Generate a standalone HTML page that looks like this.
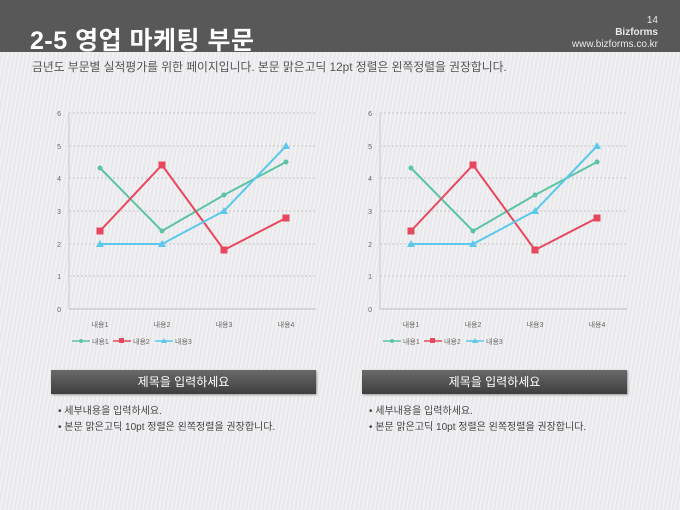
<!DOCTYPE html>
<html><head><meta charset="utf-8"><style>
body{margin:0;width:680px;height:510px;overflow:hidden;font-family:"Liberation Sans","Noto Sans CJK KR",sans-serif;background:repeating-linear-gradient(100deg,#f1f1f3 0,#f1f1f3 2px,#e9e9eb 2px,#e9e9eb 4px);position:relative}
.hd{position:absolute;left:0;top:0;width:680px;height:52px;background:#585858}
.t{position:absolute;left:30px;top:21px;color:#fff;font-size:25px;font-weight:bold;letter-spacing:0.5px}
.r{position:absolute;right:22px;top:15px;color:#e8e8e8;font-size:10px;text-align:right;line-height:12px}
.sub{position:absolute;left:32px;top:58px;font-size:11.8px;color:#555;white-space:nowrap}
.bar{position:absolute;width:265px;height:24px;top:370px;background:linear-gradient(#6a6a6a,#3e3e3e);color:#fff;font-size:12px;text-align:center;line-height:24px;box-shadow:1px 1px 2px #999}
.bl{position:absolute;top:404px;font-size:10px;color:#444;line-height:16px;white-space:nowrap}
</style></head><body>
<div class="hd"></div>
<div class="t">2-5 영업 마케팅 부문</div>
<div class="r">14<br><b>Bizforms</b><br>www.bizforms.co.kr</div>
<div class="sub">금년도 부문별 실적평가를 위한 페이지입니다. 본문 맑은고딕 12pt 정렬은 왼쪽정렬을 권장합니다.</div>
<svg width="680" height="510" style="position:absolute;left:0;top:0" font-family="Liberation Sans,Noto Sans CJK KR,sans-serif">
<defs><g id="c">
<g stroke="#bbb" stroke-dasharray="2,2" stroke-width="0.8">
<line x1="69" x2="316" y1="113" y2="113"/><line x1="69" x2="316" y1="146" y2="146"/><line x1="69" x2="316" y1="178" y2="178"/><line x1="69" x2="316" y1="211" y2="211"/><line x1="69" x2="316" y1="244" y2="244"/><line x1="69" x2="316" y1="276" y2="276"/></g>
<line x1="69" x2="316" y1="309" y2="309" stroke="#bbb"/><line x1="69" x2="69" y1="113" y2="309" stroke="#ccc"/>
<g font-size="7" fill="#666" text-anchor="end"><text x="61" y="116">6</text><text x="61" y="149">5</text><text x="61" y="181">4</text><text x="61" y="214">3</text><text x="61" y="247">2</text><text x="61" y="279">1</text><text x="61" y="312">0</text></g>
<g font-size="7" fill="#666" text-anchor="middle"><text x="100" y="327">내용1</text><text x="162" y="327">내용2</text><text x="224" y="327">내용3</text><text x="286" y="327">내용4</text></g>
<polyline points="100,168 162,231 224,195 286,162" fill="none" stroke="#5cc4a4" stroke-width="2"/>
<g fill="#5cc4a4"><circle cx="100" cy="168" r="2.5"/><circle cx="162" cy="231" r="2.5"/><circle cx="224" cy="195" r="2.5"/><circle cx="286" cy="162" r="2.5"/></g>
<polyline points="100,231 162,165 224,250 286,218" fill="none" stroke="#e8485e" stroke-width="2"/>
<g fill="#e8485e"><rect x="96.5" y="227.5" width="7" height="7"/><rect x="158.5" y="161.5" width="7" height="7"/><rect x="220.5" y="246.5" width="7" height="7"/><rect x="282.5" y="214.5" width="7" height="7"/></g>
<polyline points="100,244 162,244 224,211 286,146" fill="none" stroke="#5cc8ec" stroke-width="2"/>
<g fill="#5cc8ec"><polygon points="100,240 104,247 96,247"/><polygon points="162,240 166,247 158,247"/><polygon points="224,207 228,214 220,214"/><polygon points="286,142 290,149 282,149"/></g>
<line x1="72" x2="90" y1="341" y2="341" stroke="#5cc4a4" stroke-width="1.5"/><circle cx="81" cy="341" r="2" fill="#5cc4a4"/>
<line x1="113" x2="131" y1="341" y2="341" stroke="#e8485e" stroke-width="1.5"/><rect x="119" y="338" width="5" height="5" fill="#e8485e"/>
<line x1="155" x2="173" y1="341" y2="341" stroke="#5cc8ec" stroke-width="1.5"/><polygon points="164,338 167,343 161,343" fill="#5cc8ec"/>
<g font-size="7" fill="#666"><text x="92" y="344">내용1</text><text x="133" y="344">내용2</text><text x="175" y="344">내용3</text></g>
</g></defs>
<use href="#c"/><use href="#c" x="311"/>
</svg>
<div class="bar" style="left:51px">제목을 입력하세요</div>
<div class="bar" style="left:362px">제목을 입력하세요</div>
<div class="bl" style="left:58px">• 세부내용을 입력하세요.<br>• 본문 맑은고딕 10pt 정렬은 왼쪽정렬을 권장합니다.</div>
<div class="bl" style="left:369px">• 세부내용을 입력하세요.<br>• 본문 맑은고딕 10pt 정렬은 왼쪽정렬을 권장합니다.</div>
</body></html>
